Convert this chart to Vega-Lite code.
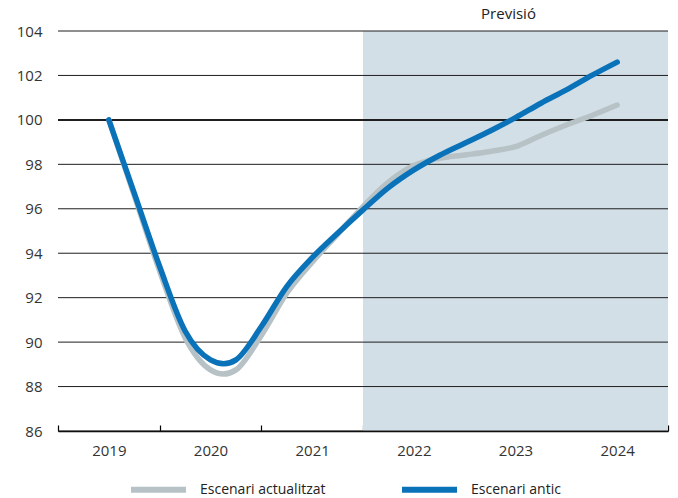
{
  "$schema": "https://vega.github.io/schema/vega-lite/v6.json",
  "width": 610,
  "height": 400,
  "autosize": {"type": "none"},
  "padding": {"left": 58, "top": 31, "right": 10, "bottom": 67},
  "config": {
    "view": {"stroke": null},
    "font": "Open Sans",
    "axis": {"labelFont": "Open Sans", "labelColor": "#333333", "labelFontSize": 15}
  },
  "datasets": {
    "series": [
      {"year": 2019.0, "value": 100.0, "serie": "Escenari actualitzat"},
      {"year": 2019.25, "value": 96.6, "serie": "Escenari actualitzat"},
      {"year": 2019.5, "value": 93.2, "serie": "Escenari actualitzat"},
      {"year": 2019.75, "value": 90.2, "serie": "Escenari actualitzat"},
      {"year": 2020.0, "value": 88.75, "serie": "Escenari actualitzat"},
      {"year": 2020.25, "value": 88.75, "serie": "Escenari actualitzat"},
      {"year": 2020.5, "value": 90.3, "serie": "Escenari actualitzat"},
      {"year": 2020.75, "value": 92.2, "serie": "Escenari actualitzat"},
      {"year": 2021.0, "value": 93.6, "serie": "Escenari actualitzat"},
      {"year": 2021.25, "value": 94.85, "serie": "Escenari actualitzat"},
      {"year": 2021.5, "value": 96.1, "serie": "Escenari actualitzat"},
      {"year": 2021.75, "value": 97.2, "serie": "Escenari actualitzat"},
      {"year": 2022.0, "value": 97.95, "serie": "Escenari actualitzat"},
      {"year": 2022.25, "value": 98.27, "serie": "Escenari actualitzat"},
      {"year": 2022.5, "value": 98.42, "serie": "Escenari actualitzat"},
      {"year": 2022.75, "value": 98.58, "serie": "Escenari actualitzat"},
      {"year": 2023.0, "value": 98.8, "serie": "Escenari actualitzat"},
      {"year": 2023.25, "value": 99.3, "serie": "Escenari actualitzat"},
      {"year": 2023.5, "value": 99.77, "serie": "Escenari actualitzat"},
      {"year": 2023.75, "value": 100.2, "serie": "Escenari actualitzat"},
      {"year": 2024.0, "value": 100.67, "serie": "Escenari actualitzat"},
      {"year": 2019.0, "value": 100.0, "serie": "Escenari antic"},
      {"year": 2019.25, "value": 96.7, "serie": "Escenari antic"},
      {"year": 2019.5, "value": 93.4, "serie": "Escenari antic"},
      {"year": 2019.75, "value": 90.5, "serie": "Escenari antic"},
      {"year": 2020.0, "value": 89.2, "serie": "Escenari antic"},
      {"year": 2020.25, "value": 89.2, "serie": "Escenari antic"},
      {"year": 2020.5, "value": 90.7, "serie": "Escenari antic"},
      {"year": 2020.75, "value": 92.5, "serie": "Escenari antic"},
      {"year": 2021.0, "value": 93.8, "serie": "Escenari antic"},
      {"year": 2021.25, "value": 94.9, "serie": "Escenari antic"},
      {"year": 2021.5, "value": 95.95, "serie": "Escenari antic"},
      {"year": 2021.75, "value": 96.95, "serie": "Escenari antic"},
      {"year": 2022.0, "value": 97.75, "serie": "Escenari antic"},
      {"year": 2022.25, "value": 98.4, "serie": "Escenari antic"},
      {"year": 2022.5, "value": 98.95, "serie": "Escenari antic"},
      {"year": 2022.75, "value": 99.5, "serie": "Escenari antic"},
      {"year": 2023.0, "value": 100.1, "serie": "Escenari antic"},
      {"year": 2023.25, "value": 100.75, "serie": "Escenari antic"},
      {"year": 2023.5, "value": 101.35, "serie": "Escenari antic"},
      {"year": 2023.75, "value": 102.0, "serie": "Escenari antic"},
      {"year": 2024.0, "value": 102.6, "serie": "Escenari antic"}
    ],
    "grid": [
      {"v": 86}, {"v": 88}, {"v": 90}, {"v": 92}, {"v": 94},
      {"v": 96}, {"v": 98}, {"v": 100}, {"v": 102}, {"v": 104}
    ],
    "band": [{"start": 2021.5, "end": 2024.5, "label": "Previsió", "mid": 2023, "top": 104}]
  },
  "layer": [
    {
      "data": {"name": "band"},
      "mark": {"type": "rect", "color": "#d3dfe7"},
      "encoding": {
        "x": {
          "field": "start", "type": "quantitative",
          "scale": {"domain": [2018.5, 2024.5], "nice": false, "zero": false},
          "axis": {
            "title": null,
            "values": [2018.5, 2019, 2019.5, 2020, 2020.5, 2021, 2021.5, 2022, 2022.5, 2023, 2023.5, 2024, 2024.5],
            "labelExpr": "datum.value % 1 === 0 ? format(datum.value, 'd') : ''",
            "grid": false,
            "domainColor": "#000000",
            "domainWidth": 1.5,
            "tickColor": "#000000",
            "tickWidth": 1.2,
            "tickSize": -6,
            "tickOpacity": {"condition": {"test": "datum.value % 1 === 0", "value": 0}, "value": 1},
            "labelPadding": 18,
            "labelFlush": false,
            "labelOverlap": false
          }
        },
        "x2": {"field": "end"},
        "y": {
          "datum": 86, "type": "quantitative",
          "scale": {"domain": [86, 104], "nice": false, "zero": false},
          "axis": {
            "title": null,
            "values": [86, 88, 90, 92, 94, 96, 98, 100, 102, 104],
            "grid": false,
            "domain": false,
            "ticks": false,
            "labelPadding": 16
          }
        },
        "y2": {"datum": 104}
      }
    },
    {
      "data": {"name": "grid"},
      "mark": {"type": "rule", "color": "#1e1e1e"},
      "encoding": {
        "y": {"field": "v", "type": "quantitative", "title": null},
        "strokeWidth": {"condition": {"test": "datum.v === 100", "value": 2}, "value": 1}
      }
    },
    {
      "data": {"name": "series"},
      "mark": {"type": "line", "interpolate": "cardinal", "strokeWidth": 5.5, "strokeCap": "round", "strokeJoin": "round"},
      "encoding": {
        "x": {"field": "year", "type": "quantitative", "title": null},
        "y": {"field": "value", "type": "quantitative", "title": null},
        "color": {
          "field": "serie", "type": "nominal",
          "scale": {"domain": ["Escenari actualitzat", "Escenari antic"], "range": ["#b7c2c6", "#0a72b8"]},
          "legend": {
            "title": null,
            "orient": "none",
            "direction": "horizontal",
            "legendX": 70,
            "legendY": 428,
            "padding": 0,
            "symbolType": "stroke",
            "symbolSize": 3025,
            "symbolStrokeWidth": 6,
            "labelFont": "Open Sans",
            "labelFontSize": 14,
            "labelColor": "#222222",
            "labelOffset": 11,
            "columnPadding": 64
          }
        }
      }
    },
    {
      "data": {"name": "band"},
      "mark": {"type": "text", "baseline": "bottom", "dy": -9, "dx": -7, "fontSize": 15, "font": "Open Sans", "color": "#222222"},
      "encoding": {
        "x": {"field": "mid", "type": "quantitative", "title": null},
        "y": {"field": "top", "type": "quantitative", "title": null},
        "text": {"field": "label"}
      }
    }
  ]
}
